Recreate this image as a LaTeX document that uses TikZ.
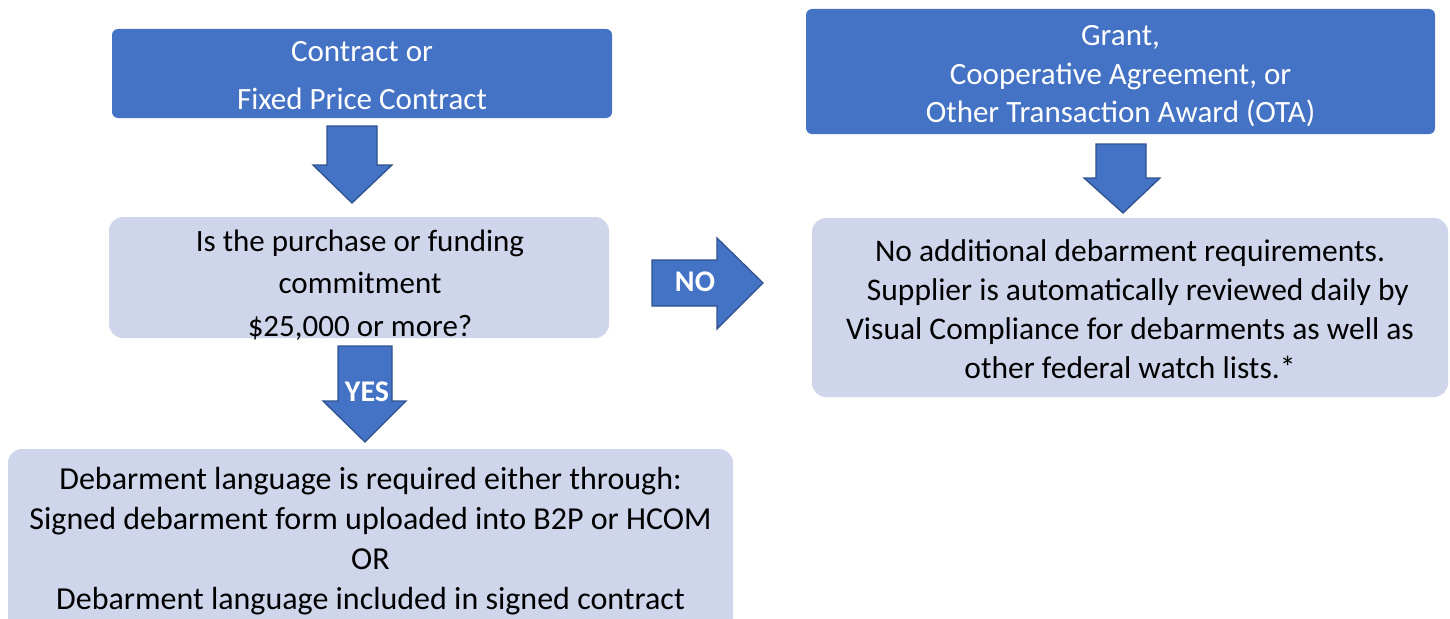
\documentclass[tikz,border=0pt]{standalone}
\usepackage{fontspec}
\setmainfont{Carlito}
\definecolor{dblue}{HTML}{4472C4}
\definecolor{lblue}{HTML}{CFD5EA}
\definecolor{oblue}{HTML}{2F528F}
\tikzset{
  darkbox/.style={rectangle, rounded corners=6pt, fill=dblue, text=white, align=center, inner sep=0pt},
  lightbox/.style={rectangle, rounded corners=14pt, fill=lblue, text=black, align=center, inner sep=0pt},
  boxtext/.style={align=center, inner sep=0pt},
  blockarrow/.style={fill=dblue, draw=oblue, line width=1.3pt, line join=miter},
  arrowlabel/.style={text=white, font=\fontsize{30}{30}\selectfont\bfseries, inner sep=0pt}
}
\begin{document}
\begin{tikzpicture}[x=1pt,y=-1pt]
\useasboundingbox (0,0) rectangle (1450,618);
% boxes
\node[darkbox, minimum width=500pt, minimum height=89pt] (b1) at (362,73.5) {};
\node[boxtext, text=white, font=\fontsize{31}{48}\selectfont] (t1) at (362,75.5) {Contract or\\Fixed Price Contract};
\node[lightbox, minimum width=500pt, minimum height=121pt] (b2) at (359,277.5) {};
\node[boxtext, text=black, font=\fontsize{31}{42.5}\selectfont] (t2) at (360,285) {Is the purchase or funding\\commitment\\\$25,000 or more?};
\node[lightbox, minimum width=725pt, minimum height=182pt] (b3) at (370.5,540) {};
\node[boxtext, text=black, font=\fontsize{32}{40}\selectfont] (t3) at (370.5,541) {Debarment language is required either through:\\Signed debarment form uploaded into B2P or HCOM\\OR\\Debarment language included in signed contract};
\node[darkbox, minimum width=629pt, minimum height=125pt] (b4) at (1120.5,71.5) {};
\node[boxtext, text=white, font=\fontsize{31}{38.5}\selectfont] (t4) at (1120.5,76.5) {Grant,\\Cooperative Agreement, or\\Other Transaction Award (OTA)};
\node[lightbox, minimum width=636pt, minimum height=179pt] (b5) at (1130,307.5) {};
\node[boxtext, text=black, font=\fontsize{31.5}{39}\selectfont] (t5) at (1130,309) {No additional debarment requirements.\\\hspace*{0.5em}Supplier is automatically reviewed daily by\\Visual Compliance for debarments as well as\\other federal watch lists.*};
% block arrows
\draw[blockarrow] (327,126) -- (377,126) -- (377,165) -- (392,165) -- (352,203) -- (313,165) -- (327,165) -- cycle;
\draw[blockarrow] (1096,144) -- (1146,144) -- (1146,178) -- (1160,178) -- (1123,213) -- (1084,178) -- (1096,178) -- cycle;
\draw[blockarrow] (338,346) -- (392,346) -- (392,401) -- (406,401) -- (365,442) -- (323,401) -- (338,401) -- cycle;
\draw[blockarrow] (652,260) -- (717,260) -- (717,238) -- (763,283) -- (717,329) -- (717,306) -- (652,306) -- cycle;
\node[arrowlabel] (yes) at (367,392) {YES};
\node[arrowlabel] (no) at (695,282) {NO};
\end{tikzpicture}
\end{document}
